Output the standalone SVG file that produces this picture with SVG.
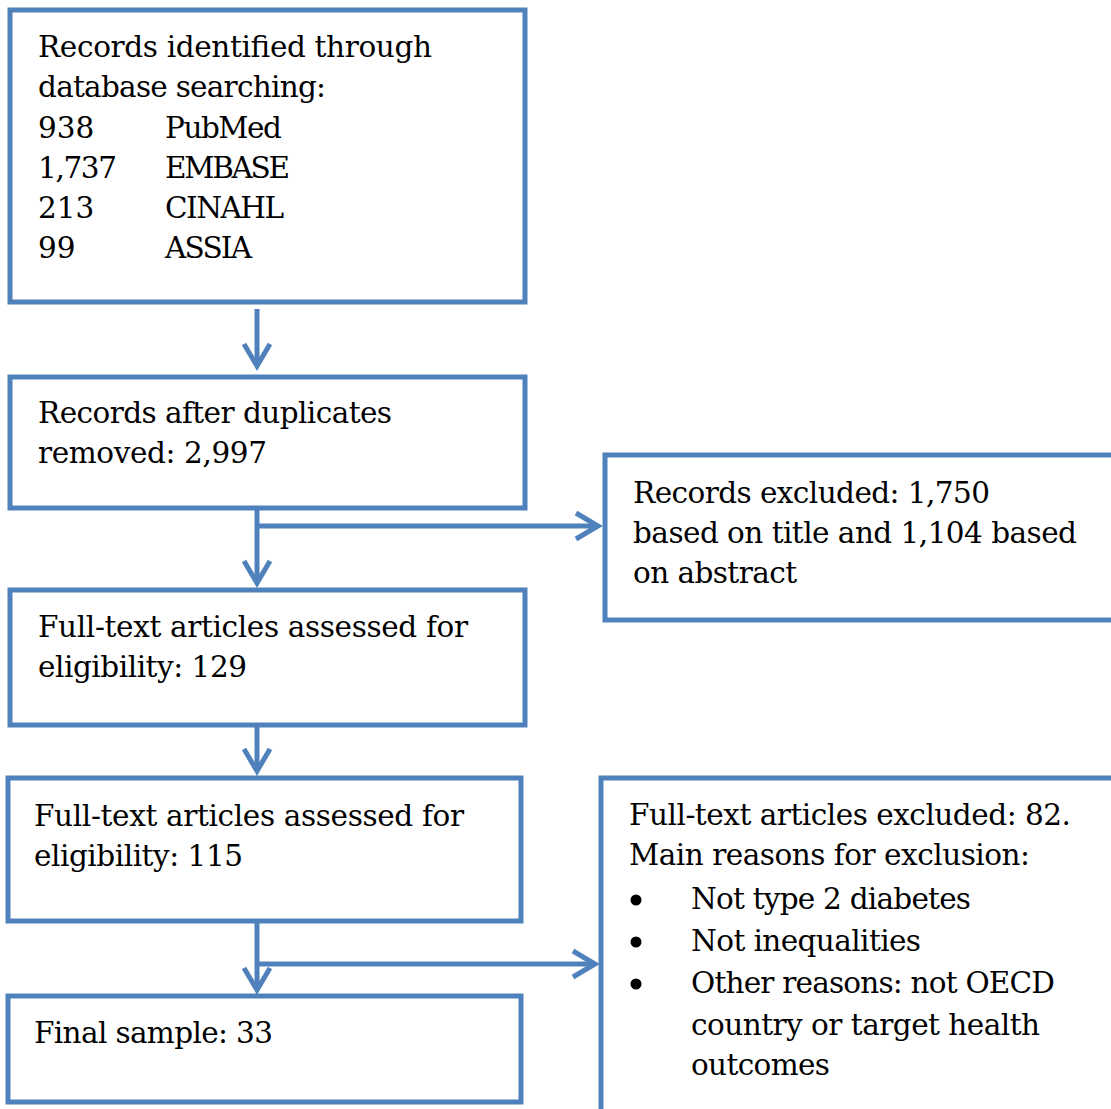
<svg xmlns="http://www.w3.org/2000/svg" width="1111" height="1109" viewBox="0 0 1111 1109">
<style>
.box{fill:#fff;stroke:#4F81BD;stroke-width:5}
.t{font-family:"DejaVu Serif","Liberation Serif",serif;font-size:29.5px;fill:#000}
.c{fill:none;stroke:#4F81BD;stroke-width:5}
</style>
<defs>
<marker id="chev" markerUnits="userSpaceOnUse" viewBox="-30 -20 40 40" refX="0" refY="0" markerWidth="40" markerHeight="40" orient="auto" overflow="visible">
<path d="M-22,-13 L0,0 L-22,13" fill="none" stroke="#4F81BD" stroke-width="5" stroke-linejoin="miter"/>
</marker>
</defs>
<rect width="1111" height="1109" fill="#fff"/>
<g id="connectors">
<line class="c" x1="257" y1="309" x2="257" y2="366" marker-end="url(#chev)"/>
<line class="c" x1="257" y1="510" x2="257" y2="583" marker-end="url(#chev)"/>
<line class="c" x1="257" y1="526" x2="598" y2="526" marker-end="url(#chev)"/>
<line class="c" x1="257" y1="727" x2="257" y2="771" marker-end="url(#chev)"/>
<line class="c" x1="257" y1="923" x2="257" y2="990" marker-end="url(#chev)"/>
<line class="c" x1="257" y1="964" x2="595" y2="964" marker-end="url(#chev)"/>
</g>
<g id="identified">
<rect class="box" x="10" y="10" width="515" height="292"/>
<text class="t" x="38" y="57" textLength="394">Records identified through</text>
<text class="t" x="38" y="97" textLength="288">database searching:</text>
<text class="t" x="38" y="138">938</text><text class="t" x="165" y="138" textLength="117">PubMed</text>
<text class="t" x="38" y="178" textLength="79">1,737</text><text class="t" x="165" y="178" textLength="125">EMBASE</text>
<text class="t" x="38" y="218">213</text><text class="t" x="165" y="218" textLength="119">CINAHL</text>
<text class="t" x="38" y="258">99</text><text class="t" x="165" y="258" textLength="87">ASSIA</text>
</g>
<g id="duplicates">
<rect class="box" x="10" y="377" width="515" height="131"/>
<text class="t" x="38" y="423" textLength="354">Records after duplicates</text>
<text class="t" x="38" y="463" textLength="229">removed: 2,997</text>
</g>
<g id="excluded1">
<rect class="box" x="605" y="455" width="520" height="165"/>
<text class="t" x="633" y="503" textLength="357">Records excluded: 1,750</text>
<text class="t" x="633" y="543" textLength="444">based on title and 1,104 based</text>
<text class="t" x="633" y="583" textLength="164">on abstract</text>
</g>
<g id="fulltext1">
<rect class="box" x="10" y="590" width="515" height="135"/>
<text class="t" x="38" y="637" textLength="430">Full-text articles assessed for</text>
<text class="t" x="38" y="677" textLength="209">eligibility: 129</text>
</g>
<g id="fulltext2">
<rect class="box" x="8" y="778" width="513" height="143"/>
<text class="t" x="34" y="826" textLength="430">Full-text articles assessed for</text>
<text class="t" x="34" y="866" textLength="209">eligibility: 115</text>
</g>
<g id="excluded2">
<rect class="box" x="601" y="778" width="520" height="340"/>
<text class="t" x="629" y="825" textLength="442">Full-text articles excluded: 82.</text>
<text class="t" x="629" y="865" textLength="401">Main reasons for exclusion:</text>
<circle cx="636" cy="900" r="5.5" fill="#000"/>
<circle cx="636" cy="942" r="5.5" fill="#000"/>
<circle cx="636" cy="984" r="5.5" fill="#000"/>
<text class="t" x="691" y="909" textLength="280">Not type 2 diabetes</text>
<text class="t" x="691" y="951" textLength="230">Not inequalities</text>
<text class="t" x="691" y="993" textLength="364">Other reasons: not OECD</text>
<text class="t" x="691" y="1035" textLength="349">country or target health</text>
<text class="t" x="691" y="1075" textLength="139">outcomes</text>
</g>
<g id="final">
<rect class="box" x="8" y="996" width="513" height="106"/>
<text class="t" x="34" y="1043" textLength="239">Final sample: 33</text>
</g>
</svg>
